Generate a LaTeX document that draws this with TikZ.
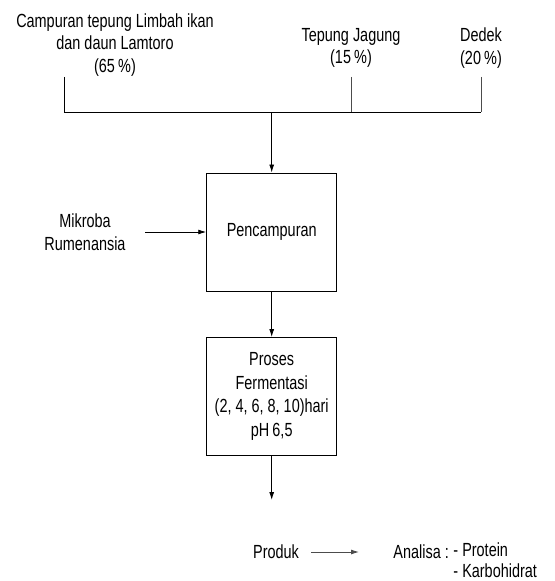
\documentclass[tikz,border=0pt]{standalone}
\usepackage{fontspec}
\setmainfont{Liberation Sans}[FakeStretch=0.76]
\usetikzlibrary{arrows.meta}
\usetikzlibrary{positioning}

\begin{document}
\begin{tikzpicture}[x=1bp,y=-1bp,>={Latex[length=8bp,width=5bp]},line width=0.9bp,
	font=\fontsize{19bp}{22.5bp}\selectfont,
	label/.style={inner sep=0pt,align=center},
	prosesbox/.style={draw,inner sep=0pt,align=center,minimum width=130bp,minimum height=118bp},
	greyline/.style={draw=black!70}]
	\useasboundingbox (0,0) rectangle (555,581);

	% bahan
	\node[label] (campuran) at (115,45) {Campuran tepung Limbah ikan\\dan daun Lamtoro\\(65\,\%)};
	\node[label] (jagung) at (351,48) {Tepung Jagung\\(15\,\%)};
	\node[label] (dedek) at (481,48) {Dedek\\(20\,\%)};
	\node[label] (mikroba) at (85,232) {Mikroba\\Rumenansia};

	% proses
	\node[prosesbox] (campur) at (271.7,232) {Pencampuran};
	\node[prosesbox,font=\fontsize{19bp}{23.5bp}\selectfont] (fermentasi) at (271.7,396.5) {Proses\\Fermentasi\\(2, 4, 6, 8, 10)hari\\pH\,6,5};

	% hasil
	\node[label] (produk) at (276,552) {Produk};
	\node[label,anchor=west] (analisa) at (393,552) {Analisa :};
	\node[label,anchor=north west,align=left,font=\fontsize{19bp}{21bp}\selectfont] (uji) at (453,542) {- Protein\\- Karbohidrat};

	\coordinate (c1) at (64,77);
	\coordinate (c2) at (351,77);
	\coordinate (c3) at (481,77);
	\coordinate (j1) at (64,112.5);
	\coordinate (j2) at (351,112.5);
	\coordinate (j3) at (481,112.5);
	\coordinate (jm) at (271.7,112.5);
	\coordinate (mik) at (145,232);
	\coordinate (akhir) at (271.7,500);
	\coordinate (p1) at (311,552);
	\coordinate (p2) at (359,552);

	\draw (c1) -- (j1) -- (j3);
	\draw[greyline] (c2) -- (j2);
	\draw[greyline] (c3) -- (j3);
	\draw[->] (jm) -- (campur);
	\draw[->] (mik) -- (campur);
	\draw[->] (campur) -- (fermentasi);
	\draw[->] (fermentasi) -- (akhir);
	\draw[->,greyline] (p1) -- (p2);

\end{tikzpicture}
\end{document}
